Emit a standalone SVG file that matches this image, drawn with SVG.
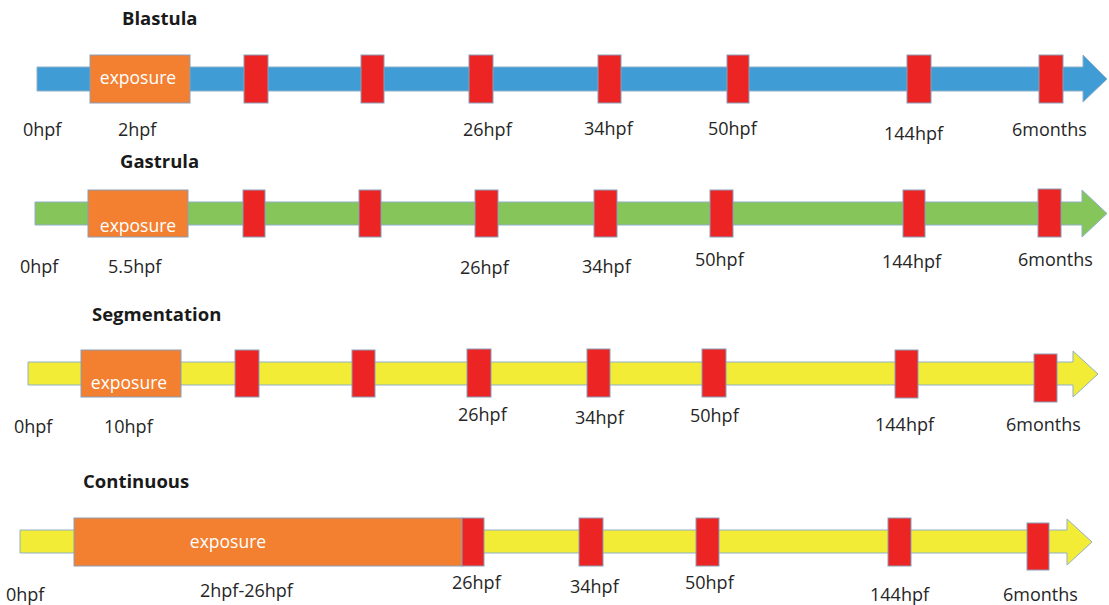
<svg xmlns="http://www.w3.org/2000/svg" width="1109" height="605" viewBox="0 0 1109 605">
<style>
.bg{fill:#fff}
.bar{stroke:#8fb0c8;stroke-width:1}
.blue{fill:#3f9cd5}
.green{fill:#86c55a}
.yellow{fill:#f2ec36}
.exp{fill:#f37f31;stroke:#8a9fb8;stroke-width:1}
.red{fill:#ec2424;stroke:#8a9fb8;stroke-width:1}
.t{font-family:"Open Sans","Noto Sans",sans-serif;font-size:18px;fill:#262626}
.title{font-family:"Open Sans","Noto Sans",sans-serif;font-size:18.5px;font-weight:bold;fill:#1a1a1a}
.ex{font-family:"Open Sans","Noto Sans",sans-serif;font-size:17.5px;fill:#ffffff;text-anchor:middle}
</style>
<rect class="bg" x="0" y="0" width="1109" height="605"/>

<g id="blastula">
<text class="title" x="122" y="25">Blastula</text>
<polygon class="bar blue" points="37,67 1083,67 1083,55 1107,79 1083,102 1083,91 37,91"/>
<rect class="exp" x="90" y="55" width="100" height="48"/>
<text class="ex" x="138" y="84">exposure</text>
<rect class="red" x="244" y="55" width="24" height="48"/>
<rect class="red" x="361" y="55" width="23" height="48"/>
<rect class="red" x="469" y="55" width="24" height="48"/>
<rect class="red" x="598" y="55" width="23" height="48"/>
<rect class="red" x="727" y="55" width="22" height="48"/>
<rect class="red" x="907" y="55" width="24" height="48"/>
<rect class="red" x="1039" y="55" width="24" height="48"/>
<text class="t" x="23" y="136">0hpf</text>
<text class="t" x="118" y="136">2hpf</text>
<text class="t" x="463" y="136">26hpf</text>
<text class="t" x="584" y="135">34hpf</text>
<text class="t" x="708" y="135">50hpf</text>
<text class="t" x="884" y="140">144hpf</text>
<text class="t" x="1012" y="136">6months</text>
</g>

<g id="gastrula">
<text class="title" x="120" y="168">Gastrula</text>
<polygon class="bar green" points="35,202 1082,202 1082,190 1107,213.5 1082,237 1082,225 35,225"/>
<rect class="exp" x="88" y="190" width="100" height="47"/>
<text class="ex" x="138" y="232">exposure</text>
<rect class="red" x="243" y="190" width="22" height="47"/>
<rect class="red" x="359" y="190" width="22" height="47"/>
<rect class="red" x="475" y="190" width="23" height="47"/>
<rect class="red" x="594" y="190" width="23" height="47"/>
<rect class="red" x="710" y="190" width="23" height="47"/>
<rect class="red" x="903" y="190" width="22" height="47"/>
<rect class="red" x="1038" y="189" width="23" height="48"/>
<text class="t" x="20" y="273">0hpf</text>
<text class="t" x="108" y="273">5.5hpf</text>
<text class="t" x="460" y="274">26hpf</text>
<text class="t" x="582" y="273">34hpf</text>
<text class="t" x="695" y="266">50hpf</text>
<text class="t" x="882" y="268">144hpf</text>
<text class="t" x="1018" y="266">6months</text>
</g>

<g id="segmentation">
<text class="title" x="92" y="321">Segmentation</text>
<polygon class="bar yellow" points="28,362 1073,362 1073,351 1098,374 1073,397 1073,385 28,385"/>
<rect class="exp" x="81" y="350" width="100" height="47"/>
<text class="ex" x="129" y="389">exposure</text>
<rect class="red" x="235" y="350" width="24" height="47"/>
<rect class="red" x="352" y="350" width="23" height="47"/>
<rect class="red" x="467" y="349" width="24" height="48"/>
<rect class="red" x="587" y="349" width="23" height="48"/>
<rect class="red" x="702" y="349" width="24" height="48"/>
<rect class="red" x="895" y="350" width="23" height="48"/>
<rect class="red" x="1034" y="354" width="23" height="48"/>
<text class="t" x="14" y="433">0hpf</text>
<text class="t" x="104" y="433">10hpf</text>
<text class="t" x="458" y="421">26hpf</text>
<text class="t" x="575" y="424">34hpf</text>
<text class="t" x="690" y="422">50hpf</text>
<text class="t" x="875" y="431">144hpf</text>
<text class="t" x="1006" y="431">6months</text>
</g>

<g id="continuous">
<text class="title" x="83" y="488">Continuous</text>
<polygon class="bar yellow" points="20,530 1067,530 1067,519 1092,542 1067,565 1067,553 20,553"/>
<rect class="exp" x="74" y="518" width="388" height="48"/>
<text class="ex" x="228" y="548">exposure</text>
<rect class="red" x="462" y="518" width="22" height="48"/>
<rect class="red" x="579" y="518" width="24" height="48"/>
<rect class="red" x="696" y="518" width="23" height="48"/>
<rect class="red" x="888" y="518" width="23" height="48"/>
<rect class="red" x="1027" y="523" width="22" height="47"/>
<text class="t" x="6" y="601">0hpf</text>
<text class="t" x="200" y="597">2hpf-26hpf</text>
<text class="t" x="452" y="589">26hpf</text>
<text class="t" x="570" y="593">34hpf</text>
<text class="t" x="685" y="589">50hpf</text>
<text class="t" x="870" y="601">144hpf</text>
<text class="t" x="1003" y="601">6months</text>
</g>
</svg>
